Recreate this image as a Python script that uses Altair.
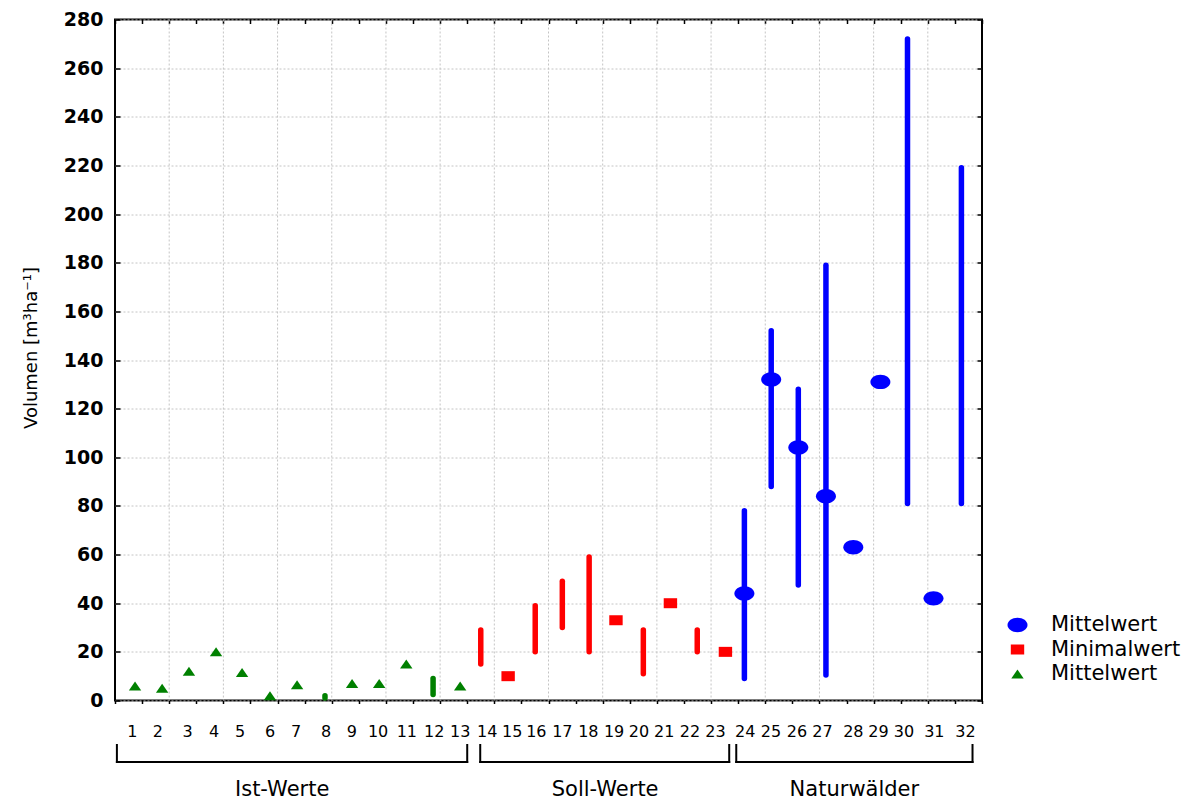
import altair as alt
import pandas as pd

# ---------------- data ----------------
ids = list(range(1, 33))
series = ["gruen"] * 13 + ["rot"] * 10 + ["blau"] * 9
# horizontal positions of the markers (x units, axis 0..32)
x_pos = [0.74, 1.74, 2.73, 3.73, 4.69, 5.72, 6.72, 7.75, 8.75, 9.75, 10.75, 11.74, 12.74,
         13.50, 14.51, 15.51, 16.51, 17.50, 18.49, 19.50, 20.50, 21.49, 22.53,
         23.23, 24.22, 25.22, 26.24, 27.25, 28.25, 29.25, 30.21, 31.24]
# positions of the category numbers under the axis
label_pos = [0.64, 1.58, 2.68, 3.66, 4.62, 5.72, 6.68, 7.79, 8.74, 9.71, 10.77, 11.78, 12.74,
             13.74, 14.66, 15.55, 16.51, 17.47, 18.42, 19.34, 20.27, 21.22, 22.16,
             23.26, 24.21, 25.17, 26.11, 27.25, 28.18, 29.12, 30.24, 31.39]
point_val = [6, 5, 12, 20, 11.5, 2, 6.5, None, 7, 7, 15, None, 6,
             None, 10, None, None, None, 33, None, 40, None, 20,
             44, 132, 104, 84, 63, 131, None, 42, None]
bar_lo = [None, None, None, None, None, None, None, 1, None, None, None, 2.5, None,
          15, None, 20, 30, 20, None, 11, None, 20, None,
          9, 88, 47.5, 10.5, None, None, 81, None, 81]
bar_hi = [None, None, None, None, None, None, None, 2, None, None, None, 9, None,
          29, None, 39, 49, 59, None, 29, None, 29, None,
          78, 152, 128, 179, None, None, 272, None, 219]

series_keys = ["blau", "rot", "gruen"]
series_colors = ["#0000FF", "#FF0000", "#008000"]
series_shapes = [
    "M-1,0A1,0.72,0,1,0,1,0A1,0.72,0,1,0,-1,0Z",
    "M-0.67,-0.5L0.67,-0.5L0.67,0.5L-0.67,0.5Z",
    "M0,-0.45L0.62,0.45L-0.62,0.45Z",
]
color_of = dict(zip(series_keys, series_colors))

group_names = ["Ist-Werte", "Soll-Werte", "Naturwälder"]
group_start = [0.07, 13.48, 22.93]
group_end = [13.0, 22.67, 31.65]
group_center = [6.17, 18.09, 27.29]

y_ticks = list(range(0, 281, 20))
x_ticks = list(range(0, 33))
x_grid = list(range(2, 31, 2))

# ---------------- tables ----------------
pts = pd.DataFrame({"id": ids, "xpos": x_pos, "val": point_val, "series": series}).dropna()
bars = pd.DataFrame({"id": ids, "xpos": x_pos, "lo": bar_lo, "hi": bar_hi, "series": series}).dropna()
bars["farbe"] = bars["series"].map(color_of)
labels = pd.DataFrame({"lab": [str(i) for i in ids], "xpos": label_pos})
groups = pd.DataFrame({"name": group_names, "start": group_start, "end": group_end, "center": group_center})
ends = pd.DataFrame({"xpos": group_start + group_end})
gridx = pd.DataFrame({"gx": x_grid})

FONT = "DejaVu Sans"
xscale = alt.Scale(domain=[0, 32], nice=False, zero=False)
yscale = alt.Scale(domain=[0, 280], nice=False)

xaxis = alt.Axis(values=x_ticks, labels=False, ticks=True, tickSize=3, tickWidth=1.5,
                 tickColor="black", domain=False, grid=False, title=None)
yaxis = alt.Axis(values=y_ticks, offset=-5, tickSize=5, tickWidth=1.5, tickColor="black",
                 domain=False, grid=True, gridColor="#c4c4c4", gridDash=[2, 2], gridWidth=1,
                 labelFont=FONT, labelFontSize=19, labelFontWeight="bold", labelColor="black",
                 labelPadding=12, labelFlush=False, labelOverlap=False, labelBound=False,
                 title="Volumen [m³ha⁻¹]", titleFont=FONT, titleFontSize=18,
                 titleFontWeight="normal", titleColor="black", titleAngle=270,
                 titleX=-89, titleY=328, titleAlign="center", titleBaseline="middle")


def X(field, **kw):
    return alt.X(field, type="quantitative", scale=xscale, axis=xaxis, **kw)


def Y(field, **kw):
    return alt.Y(field, type="quantitative", scale=yscale, axis=yaxis, **kw)


legend = alt.Legend(title=None, orient="none", legendX=892, legendY=595,
                    labelFont=FONT, labelFontSize=21, labelColor="black", labelOffset=23,
                    symbolSize=400, symbolStrokeWidth=0, rowPadding=2.5,
                    labelExpr="datum.label == 'blau' ? 'Mittelwert' : datum.label == 'rot' ? 'Minimalwert' : 'Mittelwert'")

grid_layer = alt.Chart(gridx).mark_rule(color="#c4c4c4", strokeDash=[2, 2], strokeWidth=1).encode(
    x=X("gx:Q")
)

bar_layer = alt.Chart(bars).mark_rule(strokeWidth=5.5, strokeCap="round").encode(
    x=X("xpos:Q"), y=Y("lo:Q"), y2="hi:Q", color=alt.Color("farbe:N", scale=None)
)

point_layer = alt.Chart(pts).mark_point(filled=True, size=400, opacity=1, strokeWidth=0).encode(
    x=X("xpos:Q"), y=Y("val:Q"),
    color=alt.Color("series:N", scale=alt.Scale(domain=series_keys, range=series_colors), legend=legend),
    shape=alt.Shape("series:N", scale=alt.Scale(domain=series_keys, range=series_shapes), legend=legend),
)

label_layer = alt.Chart(labels).mark_text(font=FONT, fontSize=16, color="black",
                                          align="center", baseline="middle").encode(
    x=X("xpos:Q"), y=alt.value(712), text="lab:N"
)

bracket_h = alt.Chart(groups).mark_rule(color="black", strokeWidth=2, strokeCap="square").encode(
    x=X("start:Q"), x2="end:Q", y=alt.value(742.5)
)
bracket_v = alt.Chart(ends).mark_rule(color="black", strokeWidth=2, strokeCap="square").encode(
    x=X("xpos:Q"), y=alt.value(725.5), y2=alt.value(742.5)
)
group_text = alt.Chart(groups).mark_text(font=FONT, fontSize=21, color="black",
                                         align="center", baseline="middle").encode(
    x=X("center:Q"), y=alt.value(770.5), text="name:N"
)

main = alt.layer(grid_layer, bar_layer, point_layer, label_layer, bracket_h, bracket_v, group_text)

frame_axes = alt.Chart(pts).mark_point(opacity=0).encode(
    x=alt.X("xpos:Q", scale=xscale,
            axis=alt.Axis(orient="top", values=x_ticks, offset=-4, tickSize=4, tickWidth=1.5,
                          tickColor="black", labels=False, domain=False, grid=False, title=None)),
    y=alt.Y("val:Q", scale=yscale,
            axis=alt.Axis(orient="right", values=y_ticks, offset=-5, tickSize=5, tickWidth=1.5,
                          tickColor="black", labels=False, domain=False, grid=False, title=None)),
)

chart = alt.layer(main, frame_axes).resolve_scale(x="independent", y="independent").properties(
    width=867, height=681,
    autosize=alt.AutoSizeParams(type="none"),
    padding={"left": 107, "top": 11.5, "right": 205, "bottom": 100},
    background="white",
).configure_view(stroke="black", strokeWidth=2)

chart.save("out.html", embed_options={"renderer": "svg", "actions": False})
